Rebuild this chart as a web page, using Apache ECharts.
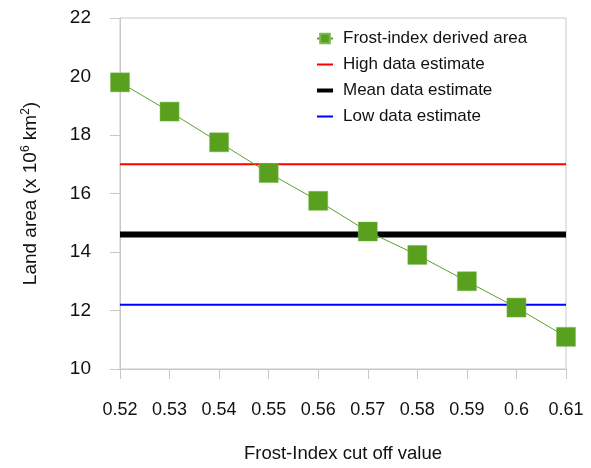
<!DOCTYPE html>
<html>
<head>
<meta charset="utf-8">
<script src="https://cdn.jsdelivr.net/npm/echarts@6/dist/echarts.min.js"></script>
<style>
html,body{margin:0;padding:0;background:#fff;}
#c{width:591px;height:468px;}
</style>
</head>
<body>
<div id="c"></div>
<script>
var categories = ['0.52','0.53','0.54','0.55','0.56','0.57','0.58','0.59','0.6','0.61'];
var frostArea = [19.8, 18.8, 17.75, 16.7, 15.75, 14.7, 13.9, 13.0, 12.1, 11.1];
var highEstimate = 17.0;
var meanEstimate = 14.6;
var lowEstimate = 12.2;
var yTicks = [10, 12, 14, 16, 18, 20, 22];

function flat(v){ return categories.map(function(){ return v; }); }

var chart = echarts.init(document.getElementById('c'), null, {renderer:'canvas'});
var font = '"Liberation Sans", Arial, sans-serif';
chart.setOption({
  animation: false,
  textStyle: {fontFamily: font},
  grid: {left: 120, right: 25, top: 18, bottom: 99, show: true, borderColor: '#c8c8c8', borderWidth: 1},
  legend: {
    orient: 'vertical', left: 310, top: 25, itemWidth: 16, itemHeight: 12, itemGap: 9,
    textStyle: {fontSize: 17, color: '#111', fontFamily: font, padding: [0,0,0,5]},
    data: [
      {name: 'Frost-index derived area'},
      {name: 'High data estimate', itemStyle: {opacity: 0}},
      {name: 'Mean data estimate', itemStyle: {opacity: 0}, lineStyle: {width: 4}},
      {name: 'Low data estimate', itemStyle: {opacity: 0}}
    ]
  },
  xAxis: {
    type: 'category', data: categories, boundaryGap: false,
    axisLine: {lineStyle: {color: '#c8c8c8', width: 1}},
    axisTick: {show: true, length: 10, inside: false, interval: 0, lineStyle: {color: '#c8c8c8'}},
    axisLabel: {fontSize: 18, color: '#111', margin: 32, interval: 0, fontFamily: font},
    splitLine: {show: false},
    name: 'Frost-Index cut off value', nameLocation: 'middle', nameGap: 75,
    nameTextStyle: {fontSize: 18.5, color: '#111', fontFamily: font}
  },
  yAxis: {
    type: 'value', min: yTicks[0], max: yTicks[yTicks.length-1], interval: 2,
    axisLine: {show: true, lineStyle: {color: '#c8c8c8', width: 1}},
    axisTick: {show: true, length: 10, inside: false, lineStyle: {color: '#c8c8c8'}},
    axisLabel: {fontSize: 19, color: '#111', margin: 29, fontFamily: font},
    splitLine: {show: false},
    name: 'Land area (x 10{sup|6} km{sup|2})', nameLocation: 'middle', nameGap: 78,
    nameTextStyle: {
      fontSize: 19, color: '#111', fontFamily: font,
      rich: {
        sup: {fontSize: 12, color: '#111', fontFamily: font, padding: [0,0,10,0]}
      }
    }
  },
  series: [
    {name: 'High data estimate', type: 'line', data: flat(highEstimate), symbol: 'none',
     lineStyle: {color: '#ff0000', width: 2}, itemStyle: {color: '#ff0000'}, z: 2},
    {name: 'Mean data estimate', type: 'line', data: flat(meanEstimate), symbol: 'none',
     lineStyle: {color: '#000000', width: 6}, itemStyle: {color: '#000000'}, z: 2},
    {name: 'Low data estimate', type: 'line', data: flat(lowEstimate), symbol: 'none',
     lineStyle: {color: '#0000ff', width: 2}, itemStyle: {color: '#0000ff'}, z: 2},
    {name: 'Frost-index derived area', type: 'line', data: frostArea, symbol: 'rect', symbolSize: 19,
     lineStyle: {color: '#5ca02a', width: 1}, itemStyle: {color: '#58a01e', borderColor: '#7cb84e', borderWidth: 0.5}, z: 5}
  ]
});
</script>
</body>
</html>
